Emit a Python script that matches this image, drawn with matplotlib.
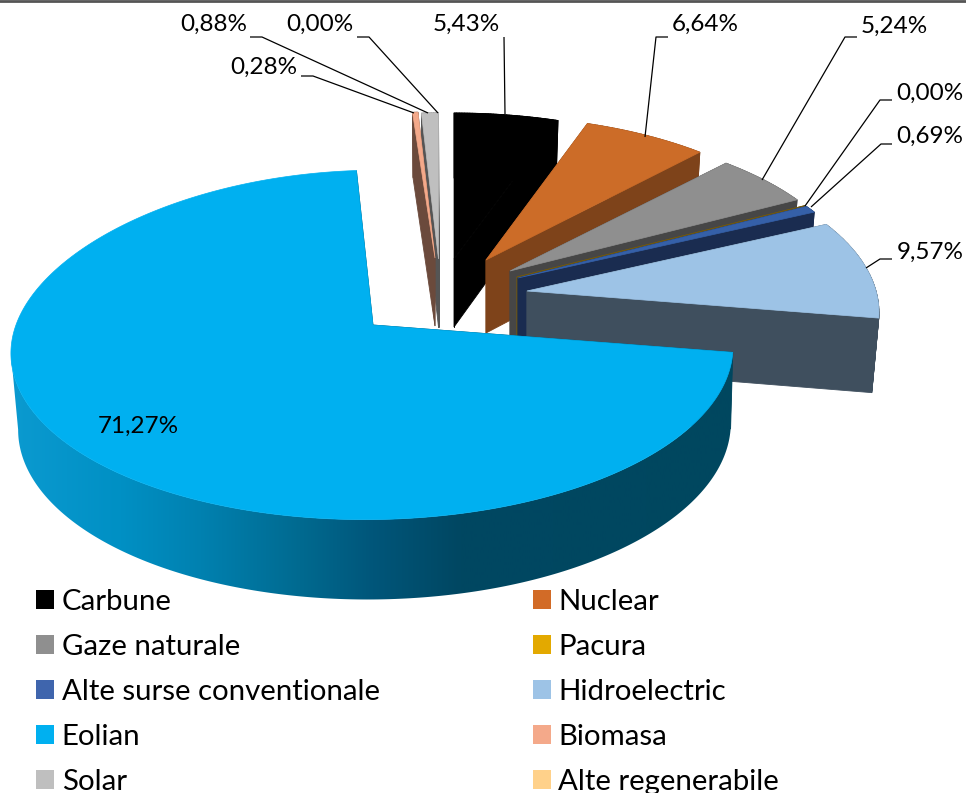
import numpy as np
import matplotlib
matplotlib.use("Agg")
import matplotlib.pyplot as plt
from matplotlib.collections import PolyCollection
from matplotlib.colors import LinearSegmentedColormap
from matplotlib.patches import Patch, Polygon

# ---- data ----
categories = ["Carbune", "Nuclear", "Gaze naturale", "Pacura", "Alte surse conventionale",
              "Hidroelectric", "Eolian", "Biomasa", "Solar", "Alte regenerabile"]
values = [5.43, 6.64, 5.24, 0.00, 0.69, 9.57, 71.27, 0.28, 0.88, 0.00]

# ---- style ----
top_colors = ["#000000", "#CC6C28", "#8F8F8F", "#E3A900", "#3560A8",
              "#9DC3E6", "#00B0F0", "#F4A98A", "#BFBFBF", "#FFD18A"]
legend_colors = ["#000000", "#D26B27", "#8F8F8F", "#E3A900", "#3F65AD",
                 "#9DC3E6", "#00B0F0", "#F4A98A", "#BFBFBF", "#FFD18A"]
side_colors = ["#000000", "#7E431A", "#464646", "#705810", "#1A2C50",
               "#3F4F5E", None, "#6B4A3C", "#555555", "#555555"]
# exploded apex of each slice, in figure pixels
apex_x = [454, 486, 510, 517, 518, 527, 373, 435, 438.5, 438]
apex_y = [259, 260, 271, 277, 278, 291, 325, 258, 259, 259]
depth = [68, 73, 73, 73, 73, 74, 76, 68, 68, 68]
size_x = [1, 0.975, 0.985, 0.99, 0.99, 1, 1.023, 1, 1, 1]
size_y = [1, 0.985, 0.985, 0.99, 0.99, 1, 1.006, 1, 1, 1]
persp = [0.13, 0.13, 0.13, 0.13, 0.13, 0.13, 0.147, 0.13, 0.13, 0.13]
skew = [0, 0, 0, 0, 0, 0, 7, 0, 0, 0]
back_stretch = [0, 0, 0, 0, 0, 0, 0.07, 0, 0, 0]
rim_scale = [0.98, 0.98, 0.98, 0.98, 0.98, 0.98, 0.987, 0.98, 0.98, 0.98]
rim_shift = [0, 0, 0, 0, 0, 0, 2.5, 0, 0, 0]
draw_order = [0, 1, 2, 3, 4, 5, 9, 8, 7, 6]
R, KR = 349.0, 165.0

grad_x = [11, 120, 200, 300, 373, 460, 740]
grad_c = ["#0B9AD0", "#0090C4", "#0081B0", "#006A90", "#00567A", "#004762", "#00475F"]

# label text centres and leaders (pixels)
label_x = [466, 705, 894, 930, 930, 930, 138, 264, 214, 320]
label_y = [24, 24, 26, 93, 136, 252, 426, 67, 24, 24]
leaders = [[(504, 37), (505, 114)],
           [(668, 37), (656, 37), (645, 137)],
           [(857, 37), (845, 37), (762, 180)],
           [(892, 100), (880, 100), (805, 206)],
           [(892, 144), (881, 144), (811, 207)],
           [(892, 259), (880, 259), (866, 268)],
           None,
           [(301, 76), (313, 76), (414, 113)],
           [(250, 37), (262, 37), (428, 113)],
           [(357, 37), (369, 37), (438, 113)]]

plt.rcParams["font.family"] = ["Lato", "DejaVu Sans"]
fig = plt.figure(figsize=(9.66, 7.93), dpi=100)
ax = fig.add_axes([0, 0, 1, 1])
ax.set_xlim(0, 966)
ax.set_ylim(793, 0)
ax.axis("off")


def project(theta_deg, i):
    t = np.radians(theta_deg)
    X, Y = np.sin(t), np.cos(t)
    f = 1.0 / (1.0 + persp[i] * Y)
    stretch = 1.0 + back_stretch[i] * np.maximum(Y, 0.0)
    return (size_x[i] * R * X + skew[i] * Y) * f, -size_y[i] * KR * Y * f * stretch


edges = np.concatenate([[0], np.cumsum(values)]) / 100.0 * 360.0
span = grad_x[-1] - grad_x[0]
rim_cmap = LinearSegmentedColormap.from_list(
    "rim", [((x - grad_x[0]) / span, c) for x, c in zip(grad_x, grad_c)])

for z, i in enumerate(draw_order):
    a0, a1 = edges[i], edges[i + 1]
    ax0, ay0, d = apex_x[i], apex_y[i], depth[i]
    n = max(2, int((a1 - a0) * 2) + 2)
    th = np.linspace(a0, a1, n)
    sx, sy = project(th, i)
    tx, ty = ax0 + sx, ay0 + sy
    bx, by = ax0 + sx * rim_scale[i] + rim_shift[i], ay0 + sy * 1.02 + d
    base = z * 10 + 2
    # flat cut faces
    for k in (0, -1):
        col = side_colors[i] if side_colors[i] else "#00475F"
        ax.add_patch(Polygon([(ax0, ay0), (tx[k], ty[k]), (bx[k], by[k]), (ax0, ay0 + d)],
                             closed=True, fc=col, ec=col, lw=0.6, zorder=base))
    # rim
    if side_colors[i] is None:
        m = int(np.argmin(tx))
        outline = list(zip(tx[:m + 1], ty[:m + 1])) + list(zip(bx[m::-1], by[m::-1]))
        rim = Polygon(outline, closed=True, fc="none", ec="none", transform=ax.transData)
        ax.add_patch(rim)
        grad = np.linspace(0, 1, 256).reshape(1, -1)
        im = ax.imshow(grad, cmap=rim_cmap, extent=(grad_x[0], grad_x[-1], 793, 0),
                       aspect="auto", zorder=base + 1, interpolation="bilinear")
        im.set_clip_path(rim)
        ax.set_xlim(0, 966)
        ax.set_ylim(793, 0)
    else:
        quads = [[(tx[j], ty[j]), (tx[j + 1], ty[j + 1]), (bx[j + 1], by[j + 1]), (bx[j], by[j])]
                 for j in range(n - 1)]
        cols = [side_colors[i]] * (n - 1)
        ax.add_collection(PolyCollection(quads, facecolors=cols, edgecolors=cols,
                                         linewidths=0.6, zorder=base + 1))
    # top face
    if values[i] > 0:
        pts = [(ax0, ay0)] + list(zip(tx, ty))
        ax.add_patch(Polygon(pts, closed=True, fc=top_colors[i], ec=top_colors[i],
                             lw=0.5, zorder=base + 2))

# labels and leader lines
for i, v in enumerate(values):
    ax.text(label_x[i], label_y[i], f"{v:.2f}%".replace(".", ","), fontsize=17.5,
            ha="center", va="center", color="#000000", zorder=200)
    if leaders[i]:
        xs, ys = zip(*leaders[i])
        ax.plot(xs, ys, color="#000000", lw=0.9, zorder=199, solid_capstyle="butt")

# legend
handles = [Patch(fc=c, ec="none") for c in legend_colors]
order = list(range(0, 10, 2)) + list(range(1, 10, 2))
leg = ax.legend([handles[i] for i in order], [categories[i] for i in order], ncol=2,
                loc="upper left", bbox_to_anchor=(36, 588.5), bbox_transform=ax.transData,
                frameon=False, fontsize=21.2, handlelength=0.62, handleheight=0.62,
                handletextpad=0.25, labelspacing=0.65, columnspacing=5.2,
                borderpad=0, borderaxespad=0)
leg.set_zorder(210)

ax.plot([0, 966], [1, 1], color="#555555", lw=2, zorder=220, clip_on=True)

fig.savefig("out.png", dpi=100, facecolor="white")
